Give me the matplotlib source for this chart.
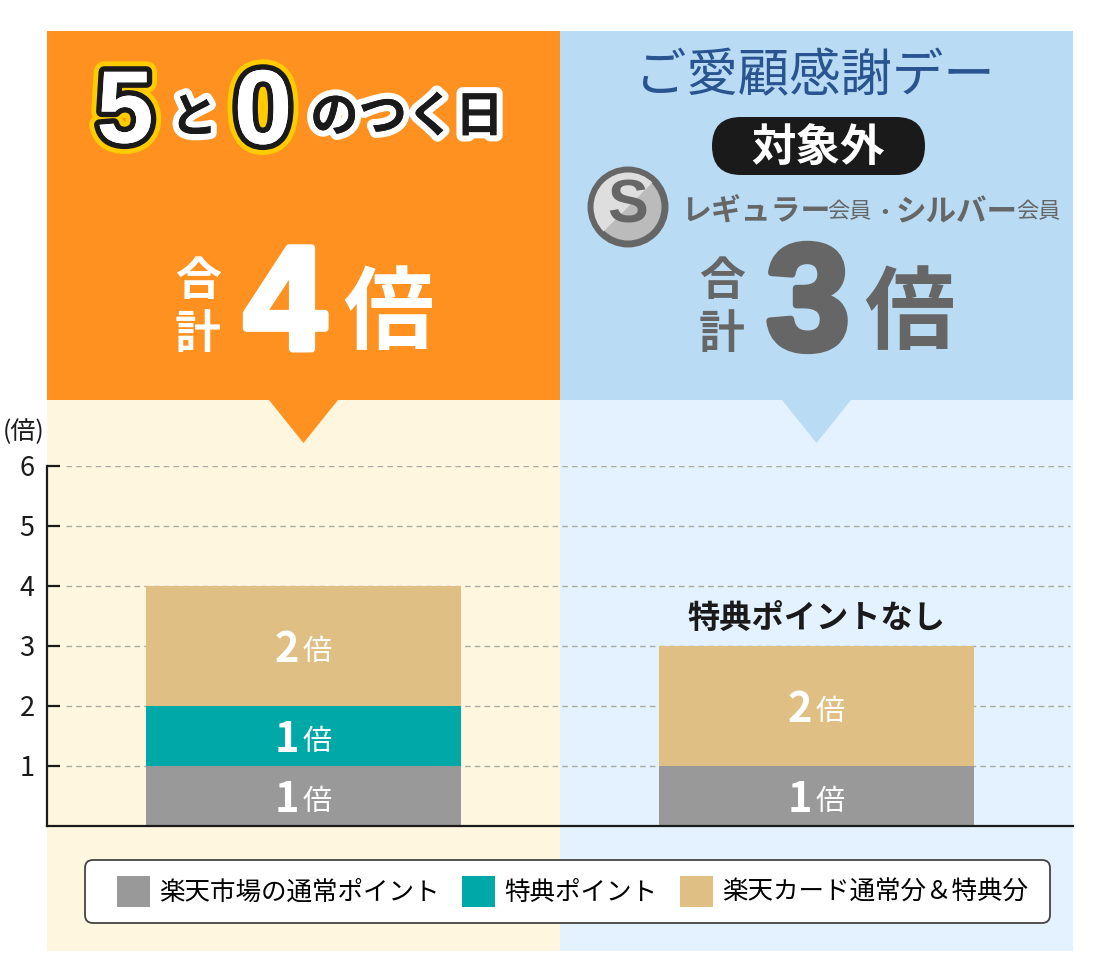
import matplotlib
matplotlib.use("Agg")
import matplotlib.pyplot as plt
import matplotlib.patheffects as pe
from matplotlib.patches import Rectangle, Polygon, Circle, FancyBboxPatch, Wedge

JP = ['Noto Sans CJK JP', 'DejaVu Sans']
plt.rcParams['font.family'] = JP

# ---- data ----
campaigns = ["5と0のつく日", "ご愛顧感謝デー"]
series_names = ["楽天市場の通常ポイント", "特典ポイント", "楽天カード通常分＆特典分"]
regular_points = [1, 1]
bonus_points = [1, 0]
card_points = [2, 2]
totals = ["4", "3"]
y_ticks = [1, 2, 3, 4, 5, 6]
y_tick_labels = ["1", "2", "3", "4", "5", "6"]

GREY, TEAL, TAN = "#999999", "#00A9A8", "#E0BF85"
ORANGE, BLUE = "#FF9120", "#B9DBF4"
CREAM, PALE = "#FFF6E0", "#E3F2FE"
DGREY = "#666666"
INK = "#1A1A1A"

fig = plt.figure(figsize=(11, 9.8), dpi=100, facecolor="white")

# ---- decoration layer in pixel coordinates ----
bg = fig.add_axes([0, 0, 1, 1], zorder=0)
bg.set_xlim(0, 1100)
bg.set_ylim(980, 0)
bg.axis("off")

bg.add_patch(Rectangle((47, 400), 513, 551, fc=CREAM, ec="none"))
bg.add_patch(Rectangle((560, 400), 513, 551, fc=PALE, ec="none"))
bg.add_patch(Rectangle((47, 31), 513, 369, fc=ORANGE, ec="none"))
bg.add_patch(Rectangle((560, 31), 513, 369, fc=BLUE, ec="none"))
bg.add_patch(Polygon([(269, 400), (338, 400), (303.5, 443)], fc=ORANGE, ec="none"))
bg.add_patch(Polygon([(782, 400), (851, 400), (816.5, 443)], fc=BLUE, ec="none"))


def ptext(x, y, s, size, color="white", weight="bold", ha="center", va="center", family=JP, effects=None):
    t = bg.text(x, y, s, fontsize=size, color=color, fontweight=weight, ha=ha, va=va, family=family)
    if effects:
        t.set_path_effects(effects)
    return t


big_fx = [pe.withStroke(linewidth=15, foreground="#FFCC00"),
          pe.withStroke(linewidth=8, foreground=INK),
          pe.Normal()]
small_fx = [pe.withStroke(linewidth=9, foreground="white"), pe.Normal()]
ARIAL = ['Liberation Sans', 'DejaVu Sans']
ptext(125, 116, "5", 74, "white", "bold", family=ARIAL, effects=big_fx)
ptext(194, 118, "と", 34, INK, "bold", effects=small_fx)
ptext(263, 116, "0", 76, "white", "bold", family=ARIAL, effects=big_fx)
ptext(407, 117, "のつく日", 34.8, INK, "bold", effects=small_fx)

# left total
ptext(198, 282, "合", 33)
ptext(198, 335, "計", 33)
ptext(285, 311, totals[0], 106, family=ARIAL,
      effects=[pe.withStroke(linewidth=5, foreground="white"), pe.Normal()])
ptext(388, 315, "倍", 65)

# right header
ptext(815, 77, campaigns[1], 37, "#2A5490", "normal")
bg.add_patch(FancyBboxPatch((712, 117), 213, 58, boxstyle="round,pad=0,rounding_size=29",
                            fc=INK, ec="none"))
ptext(818, 148, "対象外", 32)

# silver badge
bg.add_patch(Circle((628, 207), 37, fc="#BBBBBB", ec=DGREY, lw=5))
bg.add_patch(Wedge((628, 207), 34.5, 135, 315, fc="#DEDEDE", ec="none"))
ptext(628, 207, "S", 44, DGREY, family=ARIAL)
ptext(681, 212, "レギュラー", 21.5, DGREY, ha="left")
ptext(827, 212, "会員", 16, DGREY, "normal", ha="left")
ptext(885, 212, "・", 15, DGREY, ha="center")
ptext(896, 212, "シルバー", 22, DGREY, ha="left")
ptext(1016, 212, "会員", 16, DGREY, "normal", ha="left")

# right total
ptext(722, 282, "合", 33, DGREY)
ptext(722, 335, "計", 33, DGREY)
ptext(808, 310, totals[1], 108, DGREY, family=ARIAL,
      effects=[pe.withStroke(linewidth=5, foreground=DGREY), pe.Normal()])
ptext(909, 315, "倍", 65, DGREY)

ptext(24, 432, "(倍)", 18, INK, "normal")

# legend frame, wider on the left than the legend's own padding allows
bg.add_patch(FancyBboxPatch((85, 860), 965, 63, boxstyle="round,pad=0,rounding_size=8",
                            fc="white", ec="#444444", lw=1.3))

# ---- chart ----
ax = fig.add_axes([47 / 1100, (980 - 826) / 980, 1026 / 1100, 360 / 980], zorder=1)
ax.patch.set_alpha(0)
xpos = list(range(len(campaigns)))
ax.set_xlim(-0.5, 1.5)
ax.set_ylim(0, 6)
bar_w = 315 / 513

ax.hlines(y_ticks, 0.0185, 0.997, transform=ax.get_yaxis_transform(), colors="#AAAAA0",
          linestyles=(0, (4, 3)), linewidth=1, zorder=1)

bars = []
bottoms = [0, 0]
for vals, col in zip([regular_points, bonus_points, card_points], [GREY, TEAL, TAN]):
    b = ax.bar(xpos, vals, bar_w, bottom=bottoms, color=col, zorder=2)
    bars.append(b)
    for x, v, bt in zip(xpos, vals, bottoms):
        if v:
            cy = bt + v / 2
            ax.annotate(str(v), (x, cy), xytext=(-3, -3), textcoords="offset points", ha="right",
                        va="center", color="white", fontsize=30, fontweight="bold",
                        family=['Noto Sans CJK JP'], zorder=3)
            ax.annotate("倍", (x, cy), xytext=(-0.5, -4), textcoords="offset points", ha="left",
                        va="center", color="white", fontsize=21, fontweight="normal", zorder=3)
    bottoms = [a + c for a, c in zip(bottoms, vals)]

ax.annotate("特典ポイントなし", (1, 3), xytext=(0, 20), textcoords="offset points", ha="center",
            va="center", fontsize=23.2, fontweight="bold", color=INK)

for s in ("top", "right"):
    ax.spines[s].set_visible(False)
ax.spines["left"].set_linewidth(1.6)
ax.spines["bottom"].set_linewidth(1.6)
ax.spines["left"].set_color(INK)
ax.spines["bottom"].set_color(INK)
ax.set_xticks([])
ax.set_yticks(y_ticks)
ax.set_yticklabels(y_tick_labels, fontsize=19.5, color=INK)
ax.tick_params(axis="y", direction="in", length=9, width=1.6, pad=9, color=INK)

leg = ax.legend([b[0] for b in bars], series_names, loc="center", ncol=3,
                bbox_to_anchor=(572.5 / 1100, (980 - 891.5) / 980), bbox_transform=fig.transFigure,
                prop={'family': JP, 'size': 18.4}, handlelength=1.29, handleheight=1.45,
                handletextpad=0.36, columnspacing=0.88, frameon=False, borderpad=0, borderaxespad=0)

fig.savefig("out.png", dpi=100, facecolor="white")
